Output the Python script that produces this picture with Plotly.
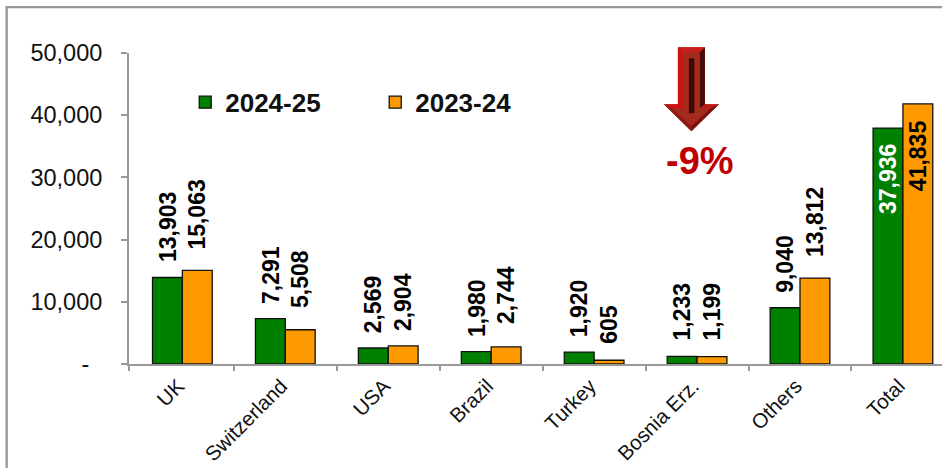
import plotly.graph_objects as go

# Export volumes by destination, two marketing years
categories = ["UK", "Switzerland", "USA", "Brazil", "Turkey", "Bosnia Erz.", "Others", "Total"]
values_2024_25 = [13903, 7291, 2569, 1980, 1920, 1233, 9040, 37936]
values_2023_24 = [15063, 5508, 2904, 2744, 605, 1199, 13812, 41835]
series_names = ["2024-25", "2023-24"]
y_ticks = [0, 10000, 20000, 30000, 40000, 50000]
y_tick_labels = ["-\u00a0\u00a0", "10,000", "20,000", "30,000", "40,000", "50,000"]
change_label = "-9%"

WIDTH, HEIGHT = 942, 468
PLOT_L, PLOT_T, PLOT_B = 129.3, 52.7, 364.0
CAT_PX = 102.9
FONT = "Liberation Sans, Arial, sans-serif"
GREEN, ORANGE, GREY = "#008000", "#FF9900", "#999999"
BAR_FRAC = 0.29

x_pos = list(range(len(categories)))
x_start = -0.5 - 1.9 / CAT_PX
x_end = x_start + (WIDTH - PLOT_L) / CAT_PX


def px(x):
    return (x - PLOT_L) / (WIDTH - PLOT_L)


def py(y):
    return (PLOT_B - y) / (PLOT_B - PLOT_T)


def polygon(points, fill):
    path = "M" + " L".join(f"{px(x):.5f},{py(y):.5f}" for x, y in points) + " Z"
    return dict(type="path", xref="paper", yref="paper", path=path,
                fillcolor=fill, line=dict(width=0), layer="above")


fig = go.Figure()
for name, vals, colour in zip(series_names, (values_2024_25, values_2023_24), (GREEN, ORANGE)):
    fig.add_bar(x=x_pos, y=vals, name=name, marker=dict(color=colour, line=dict(color="#111111", width=1.3)))

# Value labels stand clear of the bars, each with its own gap; the Total pair sits inside
gaps_green = [15, 14, 14, 14, 14, 15, 14, -15]
gaps_orange = [20, 21, 14, 22, 15, 15, 20, -15]
annotations = []
for i in x_pos:
    inside = categories[i] == "Total"
    for vals, side, colour, gaps in ((values_2024_25, -1, "white", gaps_green),
                                     (values_2023_24, 1, "black", gaps_orange)):
        annotations.append(dict(
            x=i + side * BAR_FRAC / 2, y=vals[i], xref="x", yref="y",
            text=f"<b>{vals[i]:,}</b>", textangle=-90, showarrow=False, xanchor="center",
            yanchor="top" if inside else "bottom", yshift=gaps[i],
            font=dict(family=FONT, size=23, color=colour if inside else "black"),
            borderpad=0,
        ))
annotations.append(dict(
    x=px(700.5), y=py(161), xref="paper", yref="paper", text=f"<b>{change_label}</b>",
    showarrow=False, xanchor="center", yanchor="middle",
    font=dict(family=FONT, size=38, color="#C00000"),
))

# Bevelled downward arrow
cx = 691.5
arrow = [
    polygon([(678, 47), (705, 47), (705, 104), (719, 104), (cx, 131), (664, 104), (678, 104)], "#A52A1E"),
    polygon([(678, 47), (705, 47), (700, 52), (683, 52)], "#C8201A"),
    polygon([(678, 47), (683, 52), (683, 108), (678, 104)], "#C81410"),
    polygon([(705, 47), (700, 52), (700, 108), (705, 104)], "#4A0E0A"),
    polygon([(664, 104), (678, 104), (683, 108), (672, 108)], "#D01010"),
    polygon([(705, 104), (719, 104), (711, 108), (700, 108)], "#C01A14"),
    polygon([(672, 108), (664, 104), (cx, 131), (cx, 126)], "#8E1A12"),
    polygon([(711, 108), (719, 104), (cx, 131), (cx, 126)], "#7A120C"),
    polygon([(689, 58), (694.5, 58), (694.5, 113), (689, 113)], "#3A0A06"),
]

# Outer frame: left and top edges, running off the canvas
frame = dict(type="path", xref="paper", yref="paper",
             path=f"M{px(7):.5f},{py(HEIGHT + 5):.5f} L{px(7):.5f},{py(6.8):.5f} L{px(WIDTH + 5):.5f},{py(6.8):.5f}",
             line=dict(color=GREY, width=2.4), layer="below")

fig.update_layout(
    width=WIDTH, height=HEIGHT, autosize=False,
    margin=dict(l=PLOT_L, r=0, t=PLOT_T, b=HEIGHT - PLOT_B, pad=0, autoexpand=False),
    paper_bgcolor="white", plot_bgcolor="white",
    barmode="group", bargap=1 - 2 * BAR_FRAC, bargroupgap=0,
    font=dict(family=FONT, color="black"),
    xaxis=dict(
        range=[x_start, x_end], tickmode="array", tickvals=x_pos,
        ticktext=[c + "\u00a0" for c in categories],
        tickangle=-45, ticks="", tickfont=dict(family=FONT, size=20.5, color="#111111"),
        showgrid=False, zeroline=False, showline=True, linecolor=GREY, linewidth=2,
        ticklabelstandoff=-4, automargin=False,
        minor=dict(tickmode="array", tickvals=[x_start] + [i + 0.5 for i in x_pos], ticks="outside",
                   ticklen=5, tickwidth=2, tickcolor=GREY, showgrid=False),
    ),
    yaxis=dict(
        range=[0, 50000], tickmode="array", tickvals=y_ticks, ticktext=y_tick_labels,
        ticks="outside", ticklen=6, tickwidth=2, tickcolor=GREY,
        tickfont=dict(family=FONT, size=23.5, color="#111111"),
        showgrid=False, zeroline=False, showline=True, linecolor=GREY, linewidth=2,
        ticklabelstandoff=14, automargin=False,
    ),
    legend=dict(
        orientation="h", x=px(185.5), y=py(102), xanchor="left", yanchor="middle",
        entrywidth=145, entrywidthmode="pixels", borderwidth=0, bgcolor="rgba(0,0,0,0)",
        font=dict(family=FONT, size=26, weight="bold", color="#111111"),
        traceorder="normal",
    ),
    annotations=annotations,
    shapes=[frame] + arrow,
)

fig.write_html("out.html", config=dict(displayModeBar=False))
